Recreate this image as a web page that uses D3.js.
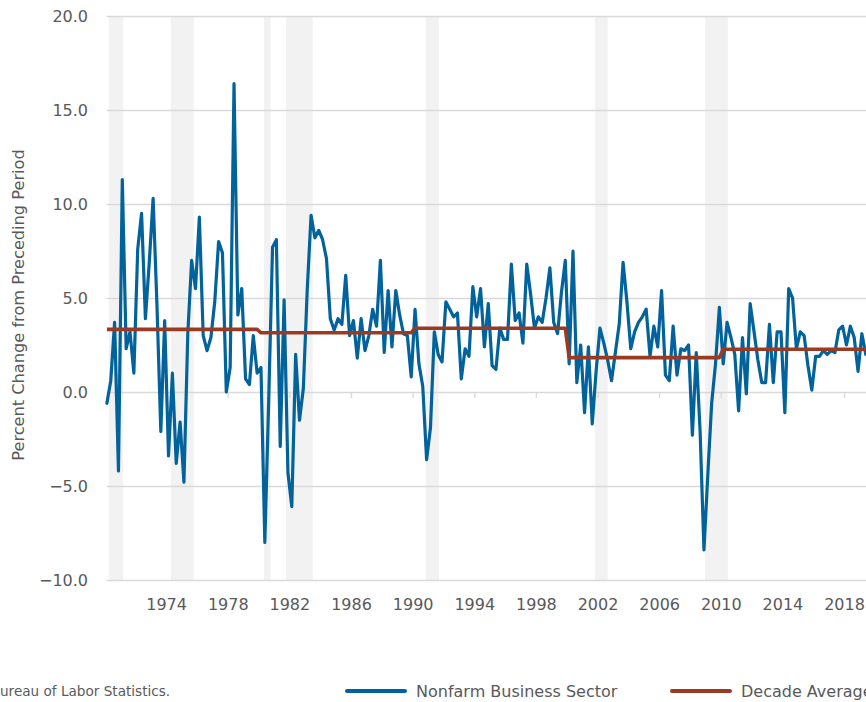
<!DOCTYPE html>
<html>
<head>
<meta charset="utf-8">
<script src="https://d3js.org/d3.v7.min.js"></script>
<style>
  body { margin: 0; background: #fff; }
  svg { display: block; overflow: hidden; }
  text { font-family: "DejaVu Sans", Verdana, sans-serif; fill: #595959; }
</style>
</head>
<body>
<script>
// quarterly % change, 1970 Q1 .. 2019 Q2
var firstYear = 1970;
var growth = [
  -0.6, 0.6, 3.7, -4.2,   11.3, 2.3, 3.2, 1.0,   7.6, 9.5, 3.9, 6.9,   10.3, 4.6, -2.1, 3.8,
  -3.4, 1.0, -3.8, -1.6,  -4.8, 3.1, 7.0, 5.5,   9.3, 3.0, 2.2, 2.9,   4.8, 8.0, 7.4, 0.0,
  1.3, 16.4, 4.1, 5.5,    0.7, 0.4, 3.0, 1.0,    1.3, -8.0, -0.5, 7.7, 8.1, -2.9, 4.9, -4.3,
  -6.1, 2.0, -1.5, 0.2,   5.4, 9.4, 8.2, 8.6,    8.1, 7.1, 3.9, 3.3,   3.9, 3.6, 6.2, 3.0,
  3.8, 1.8, 3.9, 2.2,     3.0, 4.4, 3.5, 7.0,    2.1, 5.4, 2.4, 5.4,   4.1, 3.1, 3.0, 0.8,
  4.4, 1.5, 0.3, -3.6,    -1.9, 3.2, 2.0, 1.6,   4.8, 4.4, 4.0, 4.2,   0.7, 2.3, 1.9, 5.6,
  4.0, 5.5, 2.4, 4.7,     1.4, 1.2, 3.4, 2.8,    2.8, 6.8, 3.8, 4.2,   2.6, 6.8, 5.2, 3.4,
  4.0, 3.7, 5.0, 6.6,     3.7, 3.1, 5.3, 7.0,    1.5, 7.5, 0.5, 2.5,   -1.1, 2.4, -1.7, 1.1,
  3.4, 2.6, 1.7, 0.6,     2.1, 3.6, 6.9, 4.8,    2.3, 3.2, 3.7, 4.0,   4.4, 1.9, 3.5, 2.4,
  5.4, 0.9, 0.6, 3.5,     0.9, 2.3, 2.2, 2.5,    -2.3, 2.1, -2.1, -8.4, -4.4, -0.6, 1.5, 4.5,
  1.5, 3.7, 2.9, 2.0,     -1.0, 2.9, -0.1, 4.7,  3.2, 1.7, 0.5, 0.5,   3.6, 0.5, 3.2, 3.2,
  -1.1, 5.5, 5.0, 2.3,    3.2, 3.0, 1.4, 0.1,    1.9, 1.9, 2.2, 2.0,   2.2, 2.1, 3.3, 3.5,
  2.5, 3.5, 2.9, 1.1,     3.1, 2.0
];

var decadeStart = [1970, 1980, 1990, 2000, 2010];
var decadeAvg = [3.33, 3.15, 3.39, 1.83, 2.27];

// shaded recession periods (decimal years)
var recessionStart = [1970.14, 1974.15, 1980.2, 1981.62, 1990.7, 2001.68, 2008.83];
var recessionEnd   = [1971.05, 1975.63, 1980.63, 1983.36, 1991.54, 2002.5, 2010.3];

var tickYears = [1974, 1978, 1982, 1986, 1990, 1994, 1998, 2002, 2006, 2010, 2014, 2018];
var yTicks = [-10, -5, 0, 5, 10, 15, 20];

var seriesName = 'Nonfarm Business Sector';
var avgName = 'Decade Average';
var yTitle = 'Percent Change from Preceding Period';
var sourceText = 'ureau of Labor Statistics.';

var blue = '#02639c';
var brown = '#9a3a22';
var grid = '#d9d9d9';

var width = 866, height = 702;
var plotLeft = 106.5, plotTop = 16, plotBottom = 580;

var svg = d3.select('body').append('svg')
    .attr('width', width)
    .attr('height', height);

// quarter -> decimal year
var quarters = growth.map(function(v, i) { return { t: firstYear + i / 4, v: v }; });

var x = d3.scaleLinear()
    .domain([firstYear, firstYear + 10])
    .range([plotLeft + 0.4, plotLeft + 0.4 + 154.08]);

var y = d3.scaleLinear()
    .domain([-10, 20])
    .range([plotBottom, plotTop]);

// recession shading
svg.append('g').selectAll('rect')
    .data(recessionStart)
    .enter().append('rect')
    .attr('x', function(d) { return x(d); })
    .attr('width', function(d, i) { return x(recessionEnd[i]) - x(d); })
    .attr('y', plotTop)
    .attr('height', plotBottom - plotTop)
    .attr('fill', '#f2f2f2');

// gridlines
svg.append('g').selectAll('line')
    .data(yTicks)
    .enter().append('line')
    .attr('x1', plotLeft)
    .attr('x2', width + 5)
    .attr('y1', function(d) { return Math.round(y(d)) + 0.5; })
    .attr('y2', function(d) { return Math.round(y(d)) + 0.5; })
    .attr('stroke', grid)
    .attr('stroke-width', 1.3);

// y labels
svg.append('g').selectAll('text')
    .data(yTicks)
    .enter().append('text')
    .attr('x', 88)
    .attr('y', function(d) { return y(d); })
    .attr('dy', '0.35em')
    .attr('text-anchor', 'end')
    .style('font-size', '16px')
    .text(function(d) { return d3.format('.1f')(d); });

// tick marks on the zero line, labels at the bottom
svg.append('g').selectAll('line')
    .data(tickYears)
    .enter().append('line')
    .attr('x1', function(d) { return x(d - 0.125); })
    .attr('x2', function(d) { return x(d - 0.125); })
    .attr('y1', y(0))
    .attr('y2', y(0) + 6)
    .attr('stroke', grid)
    .attr('stroke-width', 1.3);

svg.append('g').selectAll('text')
    .data(tickYears)
    .enter().append('text')
    .attr('x', function(d) { return x(d - 0.125); })
    .attr('y', 610)
    .attr('text-anchor', 'middle')
    .style('font-size', '16px')
    .text(function(d) { return d; });

// y axis title
svg.append('text')
    .attr('transform', 'translate(24,305) rotate(-90)')
    .attr('text-anchor', 'middle')
    .style('font-size', '16.2px')
    .text(yTitle);

// decade average line
var avgPoints = quarters.map(function(q) {
  var k = d3.bisectRight(decadeStart, q.t) - 1;
  return { t: q.t, v: decadeAvg[k] };
});

var line = d3.line()
    .x(function(d) { return x(d.t); })
    .y(function(d) { return y(d.v); });

svg.append('path')
    .datum(quarters)
    .attr('d', line)
    .attr('fill', 'none')
    .attr('stroke', blue)
    .attr('stroke-width', 3.2)
    .attr('stroke-linejoin', 'round')
    .attr('stroke-linecap', 'round');

svg.append('path')
    .datum(avgPoints)
    .attr('d', line)
    .attr('fill', 'none')
    .attr('stroke', brown)
    .attr('stroke-width', 3.6)
    .attr('stroke-linejoin', 'round');

// footer: source + legend
svg.append('text')
    .attr('x', 0)
    .attr('y', 696)
    .style('font-size', '13.6px')
    .text(sourceText);

var legend = [
  { name: seriesName, color: blue, x: 347 },
  { name: avgName, color: brown, x: 672 }
];

var lg = svg.append('g').selectAll('g')
    .data(legend)
    .enter().append('g');

lg.append('line')
    .attr('x1', function(d) { return d.x; })
    .attr('x2', function(d) { return d.x + 58; })
    .attr('y1', 691)
    .attr('y2', 691)
    .attr('stroke', function(d) { return d.color; })
    .attr('stroke-width', 4)
    .attr('stroke-linecap', 'round');

lg.append('text')
    .attr('x', function(d) { return d.x + 69; })
    .attr('y', 691)
    .attr('dy', '0.35em')
    .style('font-size', '16px')
    .text(function(d) { return d.name; });
</script>
</body>
</html>
